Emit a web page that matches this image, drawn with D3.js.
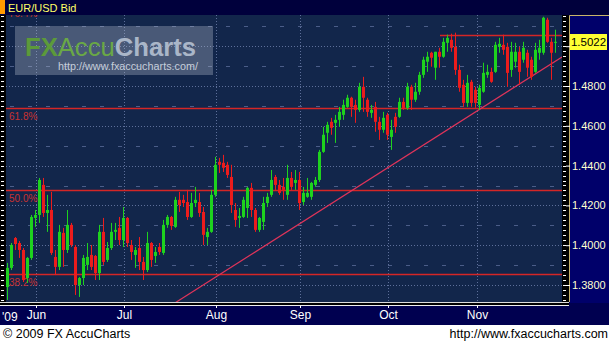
<!DOCTYPE html>
<html>
<head>
<meta charset="utf-8">
<script src="https://cdn.jsdelivr.net/npm/d3@7/dist/d3.min.js"></script>
<style>
  body { margin: 0; background: #fff; }
  svg { display: block; font-family: "Liberation Sans", Arial, sans-serif; }
</style>
</head>
<body>
<div id="chart"></div>
<script>
// EUR/USD daily candles, late May -> late Nov 2009
const opens = [1.3790,1.3886,1.4036,1.4011,1.3976,1.3835,1.3936,1.4137,1.4152,1.4303,1.4162,1.4177,1.3941,1.3891,1.4062,1.3976,1.4102,1.3991,1.3800,1.3835,
  1.3901,1.3951,1.3946,1.3860,1.4067,1.3926,1.3986,1.4067,1.4087,1.4026,1.4137,1.4001,1.3951,1.3986,1.3916,1.3875,1.4011,1.3946,1.3991,1.3961,
  1.4102,1.4142,1.4092,1.4228,1.4228,1.4217,1.4142,1.4212,1.4217,1.4167,1.4041,1.4067,1.4253,1.4419,1.4414,1.4404,1.4343,1.4177,1.4137,1.4142,
  1.4187,1.4288,1.4177,1.4077,1.4117,1.4212,1.4253,1.4343,1.4303,1.4293,1.4253,1.4338,1.4313,1.4328,1.4217,1.4243,1.4243,1.4303,1.4328,1.4469,
  1.4565,1.4620,1.4615,1.4630,1.4655,1.4695,1.4741,1.4705,1.4680,1.4796,1.4731,1.4665,1.4695,1.4620,1.4580,1.4655,1.4544,1.4645,1.4645,1.4720,
  1.4690,1.4796,1.4731,1.4771,1.4856,1.4922,1.4967,1.4892,1.4972,1.4947,1.5017,1.5032,1.4997,1.4881,1.4806,1.4715,1.4821,1.4781,1.4705,1.4771,
  1.4856,1.4871,1.4871,1.4997,1.5007,1.4997,1.4881,1.4922,1.4972,1.4932,1.4967,1.4932,1.4871,1.4967,1.4967,1.5133,1.5022,1.5017];
const highs = [1.3911,1.4011,1.4041,1.4021,1.3986,1.3941,1.4152,1.4177,1.4338,1.4338,1.4253,1.4268,1.3976,1.4102,1.4087,1.4177,1.4112,1.4001,1.3840,1.3951,
  1.4011,1.4001,1.3951,1.4102,1.4137,1.4016,1.4112,1.4112,1.4142,1.4192,1.4142,1.4026,1.3991,1.4041,1.3941,1.4067,1.4016,1.3991,1.4011,1.4127,
  1.4152,1.4147,1.4243,1.4268,1.4253,1.4278,1.4263,1.4293,1.4263,1.4192,1.4087,1.4278,1.4444,1.4439,1.4454,1.4419,1.4404,1.4212,1.4187,1.4243,
  1.4293,1.4313,1.4187,1.4142,1.4243,1.4263,1.4378,1.4353,1.4328,1.4338,1.4404,1.4368,1.4378,1.4368,1.4293,1.4338,1.4318,1.4343,1.4479,1.4595,
  1.4620,1.4640,1.4655,1.4695,1.4731,1.4756,1.4746,1.4731,1.4816,1.4846,1.4741,1.4705,1.4720,1.4645,1.4670,1.4665,1.4630,1.4665,1.4741,1.4741,
  1.4816,1.4806,1.4816,1.4871,1.4947,1.4972,1.4972,1.4972,1.4992,1.5042,1.5058,1.5063,1.5068,1.4907,1.4831,1.4856,1.4831,1.4796,1.4806,1.4917,
  1.4907,1.4892,1.5022,1.5042,1.5058,1.5017,1.5022,1.5017,1.4997,1.5022,1.4982,1.4947,1.5017,1.5032,1.5148,1.5143,1.5042,1.5083];
const lows = [1.3725,1.3875,1.3976,1.3936,1.3815,1.3810,1.3926,1.4092,1.4112,1.4142,1.4067,1.3951,1.3850,1.3875,1.3891,1.3961,1.3991,1.3750,1.3740,1.3800,
  1.3875,1.3875,1.3825,1.3825,1.3901,1.3916,1.3976,1.4026,1.4001,1.3991,1.3991,1.3926,1.3886,1.3875,1.3825,1.3865,1.3891,1.3911,1.3951,1.3951,
  1.4087,1.4077,1.4087,1.4167,1.4192,1.4127,1.4137,1.4192,1.4142,1.4001,1.4001,1.4062,1.4243,1.4363,1.4368,1.4338,1.4162,1.4092,1.4087,1.4137,
  1.4137,1.4142,1.4067,1.4067,1.4077,1.4192,1.4243,1.4278,1.4253,1.4228,1.4228,1.4278,1.4278,1.4177,1.4202,1.4238,1.4228,1.4293,1.4318,1.4464,
  1.4514,1.4555,1.4514,1.4595,1.4630,1.4690,1.4645,1.4615,1.4670,1.4670,1.4645,1.4640,1.4570,1.4529,1.4565,1.4529,1.4479,1.4565,1.4640,1.4680,
  1.4680,1.4680,1.4720,1.4756,1.4841,1.4871,1.4897,1.4831,1.4892,1.4942,1.4972,1.4972,1.4856,1.4771,1.4695,1.4695,1.4695,1.4690,1.4680,1.4766,
  1.4841,1.4816,1.4866,1.4967,1.4957,1.4796,1.4846,1.4892,1.4806,1.4917,1.4846,1.4831,1.4866,1.4932,1.4957,1.5017,1.4831,1.4967];
const closes = [1.3886,1.4001,1.4006,1.3976,1.3825,1.3936,1.4142,1.4152,1.4328,1.4162,1.4177,1.3961,1.3891,1.4067,1.3976,1.4102,1.4001,1.3800,1.3835,1.3936,
  1.3941,1.3891,1.3860,1.4067,1.3916,1.3986,1.4067,1.4077,1.4026,1.4137,1.4011,1.3966,1.3976,1.3916,1.3875,1.4011,1.3926,1.3966,1.3966,1.4102,
  1.4142,1.4097,1.4228,1.4202,1.4212,1.4142,1.4212,1.4228,1.4162,1.4052,1.4067,1.4253,1.4404,1.4404,1.4389,1.4353,1.4202,1.4127,1.4147,1.4228,
  1.4288,1.4177,1.4077,1.4137,1.4212,1.4243,1.4328,1.4303,1.4263,1.4278,1.4338,1.4293,1.4328,1.4212,1.4263,1.4263,1.4313,1.4328,1.4469,1.4555,
  1.4605,1.4590,1.4630,1.4670,1.4705,1.4741,1.4695,1.4680,1.4796,1.4741,1.4670,1.4680,1.4620,1.4580,1.4640,1.4555,1.4580,1.4595,1.4720,1.4690,
  1.4796,1.4731,1.4771,1.4856,1.4932,1.4947,1.4942,1.4972,1.4947,1.5022,1.5042,1.4992,1.4881,1.4791,1.4715,1.4816,1.4715,1.4715,1.4791,1.4866,
  1.4871,1.4821,1.5007,1.5012,1.4982,1.4866,1.4972,1.4972,1.4871,1.4992,1.4892,1.4846,1.4982,1.4992,1.5143,1.5022,1.4967,1.5022];

// month starts, as candle index
const monthLabels = ['Jun', 'Jul', 'Aug', 'Sep', 'Oct', 'Nov'];
const monthIdx = [7.25, 29.25, 52.25, 73.25, 95.25, 117.5];

const priceTicks = [1.38, 1.40, 1.42, 1.44, 1.46, 1.48, 1.50];
const lastPrice = 1.5022;

// fibonacci retracement levels
const fibLabels = ['38.2%', '50.0%', '61.8%', '76.4%'];
const fibValues = [1.3855, 1.4277, 1.4689, 1.5205];

// trend line (candle index, price) and resistance line
const trendIdx = [42, 138.75];
const trendPrice = [1.3710, 1.4946];
const resistIdx = [108.25, 140];
const resistPrice = 1.5058;

const W = 609, H = 342;
const plot = { left: 6, right: 562, top: 15, bottom: 302 };

const x = d3.scaleLinear().domain([0, 137]).range([7, 555]);
const y = d3.scaleLinear().domain([1.38, 1.48]).range([285, 86]);

const svg = d3.select('#chart').append('svg')
  .attr('width', W)
  .attr('height', H);

svg.append('rect').attr('width', W).attr('height', H).attr('fill', '#fff');

svg.append('clipPath').attr('id', 'clip')
  .append('rect')
  .attr('x', plot.left).attr('y', plot.top)
  .attr('width', plot.right - plot.left).attr('height', plot.bottom - plot.top);

// plot background
svg.append('rect')
  .attr('x', plot.left).attr('y', plot.top)
  .attr('width', plot.right - plot.left).attr('height', plot.bottom - plot.top)
  .attr('fill', '#12264b');

const g = svg.append('g').attr('clip-path', 'url(#clip)');

// grid: dotted at even levels, sparse dashes in between
g.selectAll('.hgrid').data(priceTicks).enter().append('line')
  .attr('x1', plot.left).attr('x2', plot.right)
  .attr('y1', d => Math.round(y(d)) + 0.5).attr('y2', d => Math.round(y(d)) + 0.5)
  .attr('stroke', '#5d6f9a').attr('stroke-dasharray', '1,2');

g.selectAll('.hdash').data(priceTicks.map(d => d + 0.01).concat([1.37])).enter().append('line')
  .attr('x1', plot.left + 4).attr('x2', plot.right)
  .attr('y1', d => Math.round(y(d)) + 0.5).attr('y2', d => Math.round(y(d)) + 0.5)
  .attr('stroke', '#4b5d88').attr('stroke-dasharray', '4,14');

g.selectAll('.vgrid').data(monthIdx).enter().append('line')
  .attr('x1', d => Math.round(x(d)) + 0.5).attr('x2', d => Math.round(x(d)) + 0.5)
  .attr('y1', plot.top).attr('y2', plot.bottom)
  .attr('stroke', '#5d6f9a').attr('stroke-dasharray', '1,2');

// fib lines
g.selectAll('.fib').data(fibValues).enter().append('line')
  .attr('x1', plot.left).attr('x2', plot.right)
  .attr('y1', d => Math.round(y(d)) + 0.5).attr('y2', d => Math.round(y(d)) + 0.5)
  .attr('stroke', '#d42626').attr('stroke-width', 1.3);

g.selectAll('.fibtxt').data(fibValues).enter().append('text')
  .attr('x', plot.left + 3)
  .attr('y', d => y(d) + 12)
  .attr('fill', '#c83232')
  .attr('font-size', 10)
  .text((d, i) => fibLabels[i]);

// trend line
g.append('line')
  .attr('x1', x(trendIdx[0])).attr('y1', y(trendPrice[0]))
  .attr('x2', x(trendIdx[1])).attr('y2', y(trendPrice[1]))
  .attr('stroke', '#e0345a').attr('stroke-width', 1.2);

// resistance
g.append('line')
  .attr('x1', x(resistIdx[0])).attr('x2', x(resistIdx[1]))
  .attr('y1', Math.round(y(resistPrice)) + 0.5).attr('y2', Math.round(y(resistPrice)) + 0.5)
  .attr('stroke', '#d42626').attr('stroke-width', 1.3);

// candles
const candles = g.selectAll('.candle').data(opens).enter().append('g');
const colorOf = i => closes[i] >= opens[i] ? '#1ed21e' : '#ec1c1c';

candles.append('line')
  .attr('x1', (d, i) => Math.round(x(i)) + 0.5).attr('x2', (d, i) => Math.round(x(i)) + 0.5)
  .attr('y1', (d, i) => y(highs[i])).attr('y2', (d, i) => y(lows[i]))
  .attr('stroke', (d, i) => colorOf(i));

candles.append('rect')
  .attr('x', (d, i) => Math.round(x(i)) - 1)
  .attr('width', 3)
  .attr('y', (d, i) => y(Math.max(opens[i], closes[i])))
  .attr('height', (d, i) => Math.max(1, Math.abs(y(opens[i]) - y(closes[i]))))
  .attr('fill', (d, i) => colorOf(i));

// watermark
const wm = svg.append('g');
wm.append('rect')
  .attr('x', 15).attr('y', 26).attr('width', 198).attr('height', 49)
  .attr('fill', 'rgba(185,195,210,0.33)');
const logo = wm.append('text')
  .attr('x', 25).attr('y', 56)
  .attr('font-size', 25)
  .attr('textLength', 171)
  .attr('lengthAdjust', 'spacingAndGlyphs');
logo.append('tspan').attr('fill', '#5c9a3a').attr('font-weight', 'bold').text('FX');
logo.append('tspan').attr('fill', '#6aa846').text('Accu');
logo.append('tspan').attr('fill', '#aab6c8').attr('font-weight', 'bold').text('Charts');
wm.append('text')
  .attr('x', 58).attr('y', 70)
  .attr('font-size', 11)
  .attr('fill', '#c6ceda')
  .attr('textLength', 140)
  .attr('lengthAdjust', 'spacingAndGlyphs')
  .text('http://www.fxaccucharts.com/');

// title bar
svg.append('rect').attr('x', 0).attr('y', 0).attr('width', W).attr('height', 15).attr('fill', '#00003c');
svg.append('rect').attr('x', 0).attr('y', 0).attr('width', 5).attr('height', 14).attr('fill', '#ff9a00');
svg.append('text')
  .attr('x', 8).attr('y', 11.5)
  .attr('font-size', 11)
  .attr('fill', '#ffff66')
  .text('EUR/USD Bid');

// side columns with tick dashes
svg.append('rect').attr('x', 0).attr('y', plot.top).attr('width', plot.left).attr('height', plot.bottom - plot.top + 1).attr('fill', '#000');
svg.append('rect').attr('x', plot.right).attr('y', plot.top).attr('width', 7).attr('height', plot.bottom - plot.top + 1).attr('fill', '#000');

const minor = d3.range(1.3725, 1.5151, 0.0025);
svg.selectAll('.lmin').data(minor).enter().append('line')
  .attr('x1', 1).attr('x2', 4)
  .attr('y1', d => Math.round(y(d)) + 0.5).attr('y2', d => Math.round(y(d)) + 0.5)
  .attr('stroke', '#fff');
svg.selectAll('.rmin').data(minor).enter().append('line')
  .attr('x1', plot.right + 1).attr('x2', plot.right + 4)
  .attr('y1', d => Math.round(y(d)) + 0.5).attr('y2', d => Math.round(y(d)) + 0.5)
  .attr('stroke', '#fff');

// right price panel
svg.append('rect')
  .attr('x', 569).attr('y', plot.top).attr('width', 40).attr('height', 310)
  .attr('fill', '#00006a');
svg.append('path')
  .attr('d', 'M569.5,302V15.5H609')
  .attr('fill', 'none').attr('stroke', '#c8b46a');

const yAxis = d3.axisRight(y)
  .tickValues(priceTicks)
  .tickFormat(d3.format('.4f'))
  .tickSize(4)
  .tickPadding(2);

const yAxisG = svg.append('g')
  .attr('transform', 'translate(566,0)')
  .call(yAxis);
yAxisG.select('.domain').remove();
yAxisG.selectAll('line').attr('stroke', '#fff');
yAxisG.selectAll('text')
  .attr('fill', '#ffffd0')
  .attr('font-size', 11)
  .attr('font-family', '"Liberation Sans", Arial, sans-serif');

// last price box
svg.append('rect')
  .attr('x', 570).attr('y', Math.round(y(lastPrice)) - 8)
  .attr('width', 37).attr('height', 16)
  .attr('fill', '#ffff33');
svg.append('text')
  .attr('x', 588.5).attr('y', y(lastPrice) + 4)
  .attr('text-anchor', 'middle')
  .attr('font-size', 11.5)
  .attr('fill', '#000')
  .text(d3.format('.4f')(lastPrice));

// bottom date axis
svg.append('rect').attr('x', 0).attr('y', 303).attr('width', W).attr('height', 22).attr('fill', '#000050');
svg.append('rect').attr('x', 0).attr('y', 302).attr('width', 569).attr('height', 4).attr('fill', '#000');
svg.append('line').attr('x1', 0).attr('x2', 569).attr('y1', 302.5).attr('y2', 302.5).attr('stroke', '#ddd');
svg.append('line').attr('x1', 0).attr('x2', 569).attr('y1', 305.5).attr('y2', 305.5).attr('stroke', '#eee');

const xAxis = d3.axisBottom(x)
  .tickValues(monthIdx)
  .tickFormat((d, i) => monthLabels[i])
  .tickSize(2)
  .tickPadding(2);

const xAxisG = svg.append('g')
  .attr('transform', 'translate(0,306)')
  .call(xAxis);
xAxisG.select('.domain').remove();
xAxisG.selectAll('line').attr('stroke', '#fff');
xAxisG.selectAll('text')
  .attr('fill', '#fff')
  .attr('font-size', 12)
  .attr('font-family', '"Liberation Sans", Arial, sans-serif');

svg.append('text')
  .attr('x', 2).attr('y', 321)
  .attr('font-size', 12)
  .attr('fill', '#fff')
  .text("'09");

// footer
svg.append('text')
  .attr('x', 3).attr('y', 338)
  .attr('font-size', 12.5)
  .attr('fill', '#000')
  .text('\u00a9 2009 FX AccuCharts');
svg.append('text')
  .attr('x', 608).attr('y', 338)
  .attr('text-anchor', 'end')
  .attr('font-size', 12.5)
  .attr('fill', '#000')
  .text('http://www.fxaccucharts.com');
</script>
</body>
</html>
